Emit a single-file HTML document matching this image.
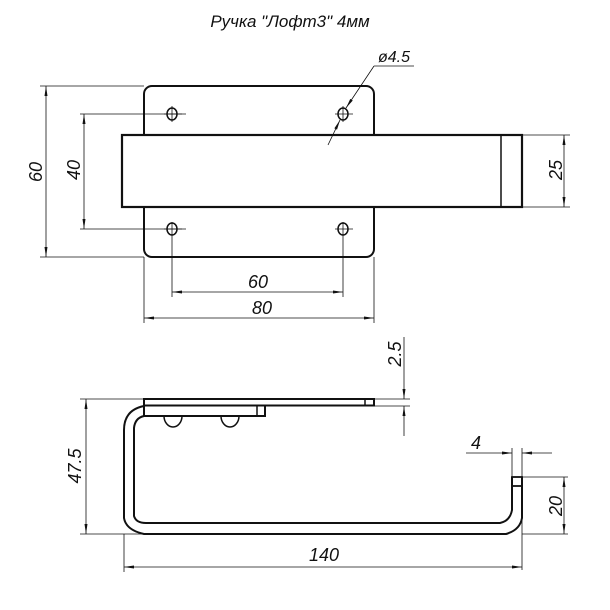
<!DOCTYPE html>
<html><head><meta charset="utf-8"><style>
html,body{margin:0;padding:0;background:#fff}
svg{display:block}
text{font-family:"Liberation Sans",sans-serif;font-style:italic;fill:#111}
</style></head><body>
<svg width="610" height="610" viewBox="0 0 610 610" xmlns="http://www.w3.org/2000/svg">
<defs>
<marker id="a" viewBox="0 0 10 4" refX="10" refY="2" markerWidth="10" markerHeight="4" markerUnits="userSpaceOnUse" orient="auto-start-reverse"><path d="M0,0.5 L10,2 L0,3.5z" fill="#111"/></marker>
</defs>
<text x="290" y="27" font-size="17" text-anchor="middle">Ручка "Лофт3" 4мм</text>
<g stroke="#111" fill="none">
<rect x="144" y="86" width="230" height="171" rx="8" stroke-width="2"/>
<rect x="122" y="135" width="400" height="72" fill="#fff" stroke-width="2.2"/>
<line x1="501" y1="135" x2="501" y2="207" stroke-width="1.5"/>
<g stroke-width="1.5">
<ellipse cx="172" cy="114" rx="5" ry="6"/><ellipse cx="343" cy="114" rx="5" ry="6"/>
<ellipse cx="172" cy="229" rx="5" ry="6"/><ellipse cx="343" cy="229" rx="5" ry="6"/>
</g>
<g stroke-width="0.8">
<line x1="164" y1="114" x2="182" y2="114"/><line x1="335" y1="114" x2="353" y2="114"/>
<line x1="172" y1="106" x2="172" y2="122"/><line x1="343" y1="106" x2="343" y2="122"/>
<line x1="164" y1="229" x2="182" y2="229"/><line x1="335" y1="229" x2="353" y2="229"/>
<line x1="40" y1="86" x2="144" y2="86"/><line x1="40" y1="257" x2="144" y2="257"/>
<line x1="46" y1="86" x2="46" y2="257" marker-start="url(#a)" marker-end="url(#a)"/>
<line x1="80" y1="114" x2="186" y2="114"/><line x1="80" y1="229" x2="186" y2="229"/>
<line x1="84" y1="114" x2="84" y2="229" marker-start="url(#a)" marker-end="url(#a)"/>
<line x1="522" y1="135" x2="570" y2="135"/><line x1="522" y1="207" x2="570" y2="207"/>
<line x1="564" y1="135" x2="564" y2="207" marker-start="url(#a)" marker-end="url(#a)"/>
<line x1="172" y1="222" x2="172" y2="297"/><line x1="343" y1="222" x2="343" y2="297"/>
<line x1="172" y1="292" x2="343" y2="292" marker-start="url(#a)" marker-end="url(#a)"/>
<line x1="144" y1="257" x2="144" y2="323"/><line x1="374" y1="257" x2="374" y2="323"/>
<line x1="144" y1="318" x2="374" y2="318" marker-start="url(#a)" marker-end="url(#a)"/>
<line x1="328" y1="145" x2="340" y2="120" marker-end="url(#a)"/>
<line x1="374" y1="66" x2="346" y2="108" marker-end="url(#a)"/>
<line x1="374" y1="66" x2="414" y2="66"/>
</g>
<rect x="144" y="399" width="230" height="6.5" fill="#fff" stroke-width="2"/>
<line x1="365" y1="399" x2="365" y2="405" stroke-width="1.5"/>
<rect x="144" y="405.5" width="121" height="10.5" fill="#fff" stroke-width="2"/>
<line x1="257" y1="405" x2="257" y2="416" stroke-width="1.5"/>
<path d="M144,406 Q124,410 124,430 L124,518 Q126,530 144,534 L506,534 Q520,530 522,518 L522,477" stroke-width="2"/>
<path d="M144,416 Q135,418 134,428 L134,516 Q136,523 146,523 L500,523 Q510,521 512,510 L512,477" stroke-width="2"/>
<rect x="512" y="477" width="10" height="9" stroke-width="1.8"/>
<path d="M164,416 A9,11 0 0 0 182,416" stroke-width="1.5"/>
<path d="M221,416 A9,11 0 0 0 239,416" stroke-width="1.5"/>
<g stroke-width="0.8">
<line x1="80" y1="399" x2="144" y2="399"/><line x1="80" y1="534" x2="144" y2="534"/>
<line x1="86" y1="399" x2="86" y2="534" marker-start="url(#a)" marker-end="url(#a)"/>
<line x1="374" y1="399" x2="410" y2="399"/><line x1="374" y1="406" x2="410" y2="406"/>
<line x1="404" y1="337" x2="404" y2="399" marker-end="url(#a)"/>
<line x1="404" y1="436" x2="404" y2="406" marker-end="url(#a)"/>
<line x1="512" y1="448" x2="512" y2="477"/><line x1="522" y1="448" x2="522" y2="570"/>
<line x1="466" y1="453" x2="512" y2="453" marker-end="url(#a)"/>
<line x1="552" y1="453" x2="522" y2="453" marker-end="url(#a)"/>
<line x1="522" y1="477" x2="568" y2="477"/><line x1="522" y1="534" x2="568" y2="534"/>
<line x1="564" y1="477" x2="564" y2="534" marker-start="url(#a)" marker-end="url(#a)"/>
<line x1="124" y1="534" x2="124" y2="572"/>
<line x1="124" y1="567" x2="522" y2="567" marker-start="url(#a)" marker-end="url(#a)"/>
</g>
</g>
<g font-size="18">
<text x="258" y="288" text-anchor="middle">60</text>
<text x="262" y="314" text-anchor="middle">80</text>
<text x="394" y="62" font-size="16" text-anchor="middle">ø4.5</text>
<text transform="translate(42,172) rotate(-90)" text-anchor="middle">60</text>
<text transform="translate(80,170) rotate(-90)" text-anchor="middle">40</text>
<text transform="translate(562,170) rotate(-90)" text-anchor="middle">25</text>
<text transform="translate(81,466) rotate(-90)" text-anchor="middle">47.5</text>
<text transform="translate(401,354) rotate(-90)" text-anchor="middle">2.5</text>
<text x="476" y="449" text-anchor="middle">4</text>
<text transform="translate(562,506) rotate(-90)" text-anchor="middle">20</text>
<text x="324" y="561" text-anchor="middle">140</text>
</g>
</svg>
</body></html>
